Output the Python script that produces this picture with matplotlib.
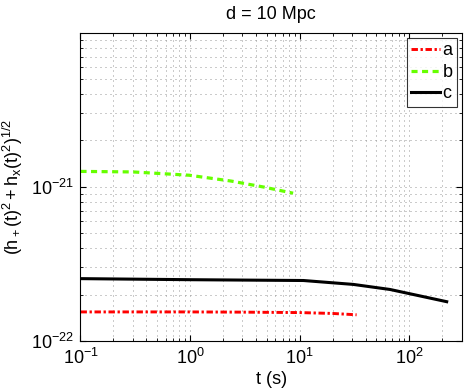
import matplotlib
matplotlib.use("Agg")
import matplotlib.pyplot as plt
from matplotlib.ticker import LogLocator, NullFormatter

plt.rcParams['font.family'] = ['Liberation Sans', 'DejaVu Sans']
plt.rcParams['mathtext.fontset'] = 'custom'
plt.rcParams['mathtext.rm'] = 'Liberation Sans'
plt.rcParams['mathtext.it'] = 'Liberation Sans'

# series a (red dash-dot)
t_a = [0.1, 0.3, 1.0, 3.0, 10.0, 20.0, 33.0]
h_a = [1.545e-22, 1.545e-22, 1.545e-22, 1.54e-22, 1.53e-22, 1.51e-22, 1.48e-22]

# series b (green dashed)
t_b = [0.1, 0.3, 0.98, 2.38, 4.6, 8.7]
h_b = [1.26e-21, 1.25e-21, 1.19e-21, 1.09e-21, 1.0e-21, 9.1e-22]

# series c (black solid)
t_c = [0.1, 1.0, 10.8, 30.8, 66.7, 219.0]
h_c = [2.54e-22, 2.50e-22, 2.47e-22, 2.33e-22, 2.16e-22, 1.8e-22]

fig = plt.figure(figsize=(4.68, 3.88), dpi=100)
ax = fig.add_axes([0.172, 0.121, 0.8145, 0.793])

ax.loglog(t_a, h_a, color='red', linestyle=(0, (2.2, 0.9, 0.8, 0.9)), linewidth=2.1, label='a')
ax.loglog(t_b, h_b, color='#66ff00', linestyle=(0, (1.9, 1.4)), linewidth=2.3, label='b')
ax.loglog(t_c, h_c, color='black', linestyle='-', linewidth=2.2, label='c')

ax.set_xlim(0.1, 300)
ax.set_ylim(1e-22, 9.9e-21)

ax.xaxis.set_major_locator(LogLocator(base=10, numticks=10))
ax.xaxis.set_minor_locator(LogLocator(base=10, subs=range(2, 10), numticks=20))
ax.xaxis.set_minor_formatter(NullFormatter())
ax.yaxis.set_minor_locator(LogLocator(base=10, subs=range(2, 10), numticks=20))
ax.yaxis.set_minor_formatter(NullFormatter())

ax.grid(True, which='both', linestyle=(0, (1, 4)), color='#999999', linewidth=0.72)
ax.tick_params(which='both', direction='in', top=True, right=True, labelsize=13)
ax.tick_params(which='major', length=4, pad=5)
ax.tick_params(which='minor', length=2)
for s in ax.spines.values():
    s.set_linewidth(0.8)

ax.set_title('d = 10 Mpc', fontsize=13, pad=10)
ax.set_xlabel('t (s)', fontsize=13, labelpad=2)
ax.set_ylabel(r'$(\mathrm{h}_+(\mathrm{t})^2 + \mathrm{h}_x(\mathrm{t})^2)^{1/2}$', fontsize=13, labelpad=4)

leg = ax.legend(loc='upper right', fontsize=13, frameon=True, fancybox=False,
                edgecolor='black', handlelength=1.6, borderaxespad=0.25,
                labelspacing=0.25, handletextpad=0.15, borderpad=0.25)
leg.get_frame().set_linewidth(0.8)

fig.savefig('out.png', dpi=100)
